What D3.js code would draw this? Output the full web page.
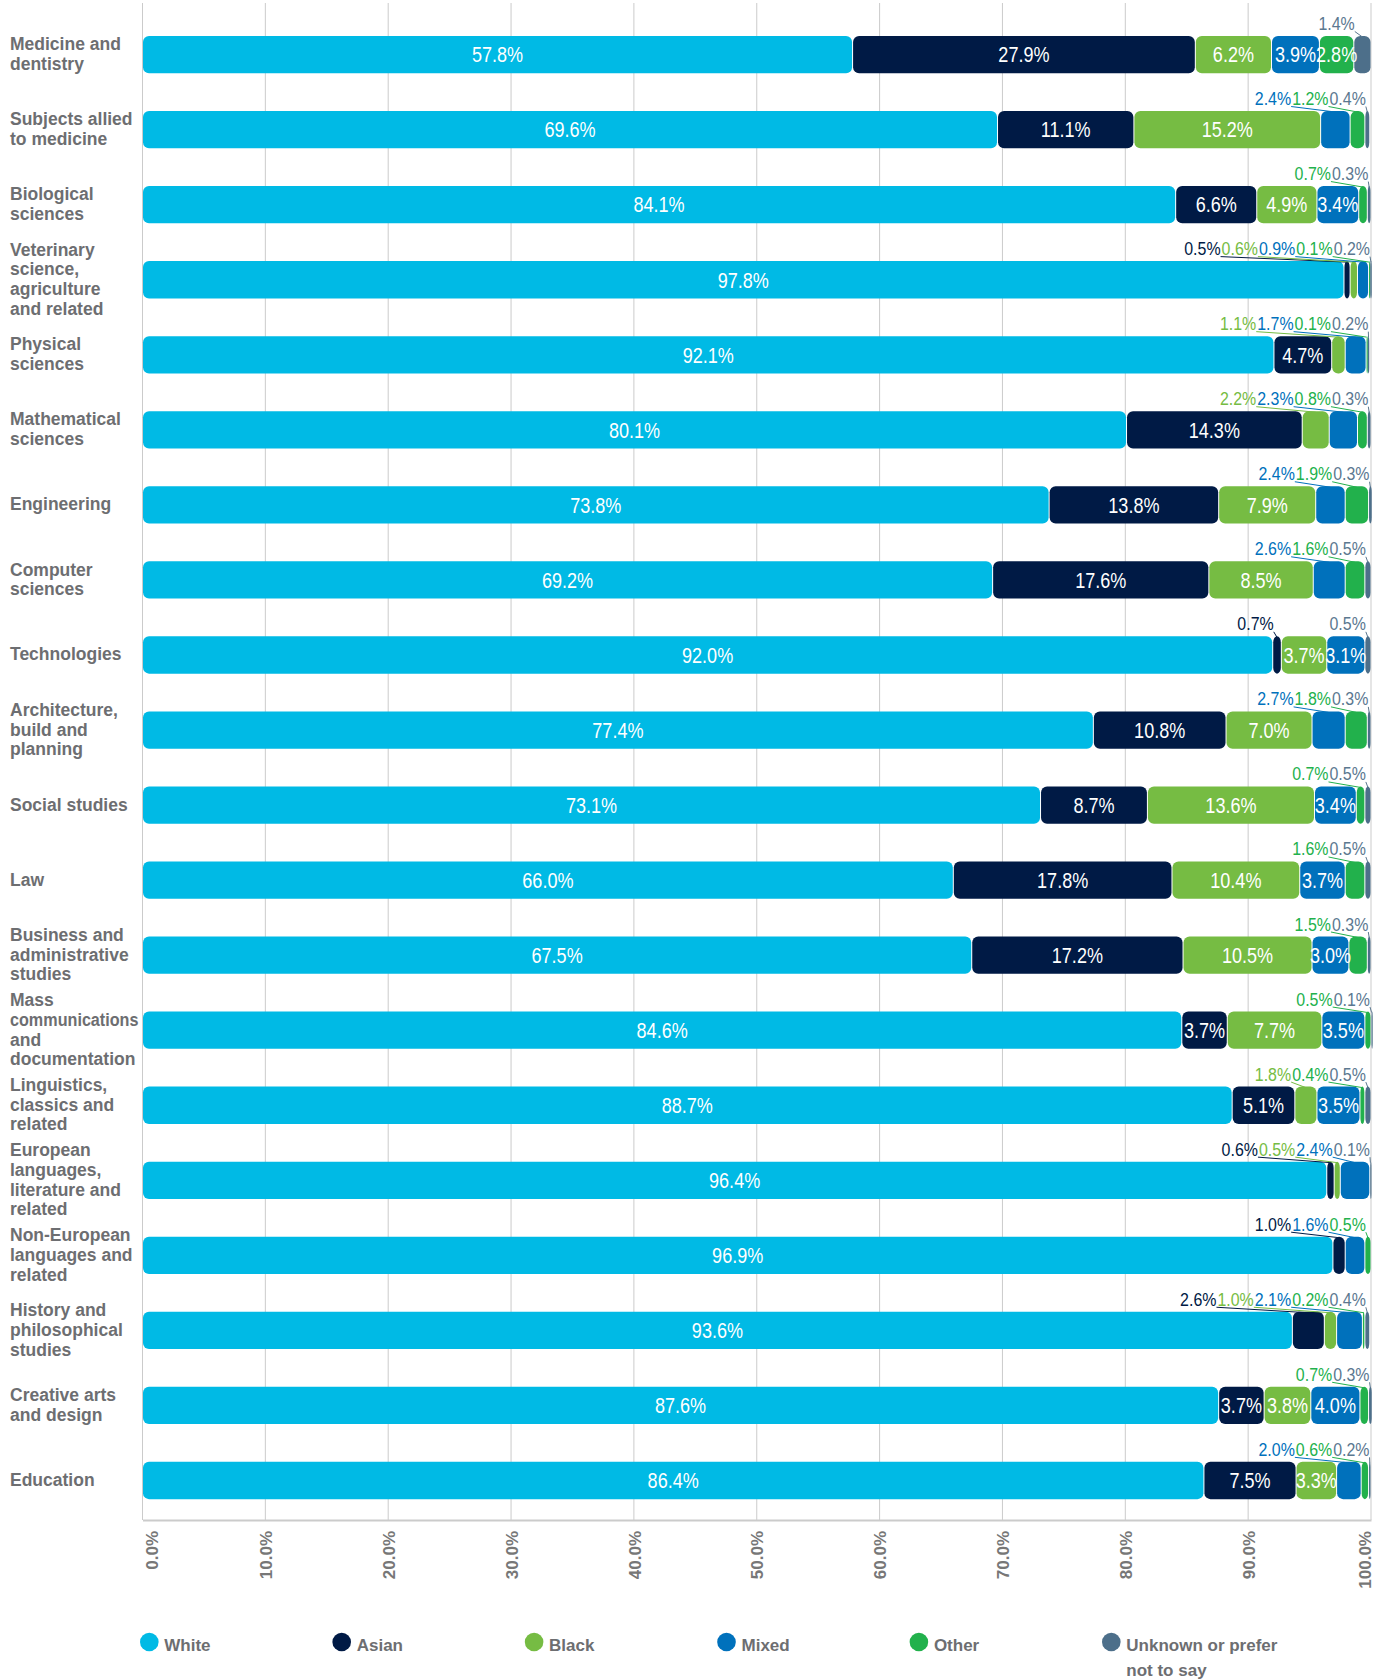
<!DOCTYPE html>
<html>
<head>
<meta charset="utf-8">
<script src="https://cdn.jsdelivr.net/npm/d3@7"></script>
<style>
  body { margin: 0; background: #fff; }
  svg { display: block; }
</style>
</head>
<body>
<svg id="chart" width="1384" height="1679"></svg>
<script>
// Subject areas (line breaks mark how each name wraps)
const categories = [
  "Medicine and\ndentistry",
  "Subjects allied\nto medicine",
  "Biological\nsciences",
  "Veterinary\nscience,\nagriculture\nand related",
  "Physical\nsciences",
  "Mathematical\nsciences",
  "Engineering",
  "Computer\nsciences",
  "Technologies",
  "Architecture,\nbuild and\nplanning",
  "Social studies",
  "Law",
  "Business and\nadministrative\nstudies",
  "Mass\ncommunications\nand\ndocumentation",
  "Linguistics,\nclassics and\nrelated",
  "European\nlanguages,\nliterature and\nrelated",
  "Non-European\nlanguages and\nrelated",
  "History and\nphilosophical\nstudies",
  "Creative arts\nand design",
  "Education"
];

// Share of students by ethnicity, per subject area (%)
const white   = [57.8, 69.6, 84.1, 97.8, 92.1, 80.1, 73.8, 69.2, 92.0, 77.4, 73.1, 66.0, 67.5, 84.6, 88.7, 96.4, 96.9, 93.6, 87.6, 86.4];
const asian   = [27.9, 11.1,  6.6,  0.5,  4.7, 14.3, 13.8, 17.6,  0.7, 10.8,  8.7, 17.8, 17.2,  3.7,  5.1,  0.6,  1.0,  2.6,  3.7,  7.5];
const black   = [ 6.2, 15.2,  4.9,  0.6,  1.1,  2.2,  7.9,  8.5,  3.7,  7.0, 13.6, 10.4, 10.5,  7.7,  1.8,  0.5,  0.0,  1.0,  3.8,  3.3];
const mixed   = [ 3.9,  2.4,  3.4,  0.9,  1.7,  2.3,  2.4,  2.6,  3.1,  2.7,  3.4,  3.7,  3.0,  3.5,  3.5,  2.4,  1.6,  2.1,  4.0,  2.0];
const other   = [ 2.8,  1.2,  0.7,  0.1,  0.1,  0.8,  1.9,  1.6,  0.0,  1.8,  0.7,  1.6,  1.5,  0.5,  0.4,  0.0,  0.5,  0.2,  0.7,  0.6];
const unknown = [ 1.4,  0.4,  0.3,  0.2,  0.2,  0.3,  0.3,  0.5,  0.5,  0.3,  0.5,  0.5,  0.3,  0.1,  0.5,  0.1,  0.0,  0.4,  0.3,  0.2];

const seriesKeys  = ["white", "asian", "black", "mixed", "other", "unknown"];
const seriesNames = ["White", "Asian", "Black", "Mixed", "Other", "Unknown or prefer not to say"];
const tickValues  = [0, 10, 20, 30, 40, 50, 60, 70, 80, 90, 100];

// Palette
const seriesColors = ["#00BAE5", "#001A45", "#76BC43", "#0071BC", "#22B14C", "#4D6F8A"];
const labelColors  = ["#00BAE5", "#001A45", "#76BC43", "#0071BC", "#22B14C", "#5B7890"];

const series = [white, asian, black, mixed, other, unknown];
const rows = categories.map((c, i) => {
  const r = { category: c };
  seriesKeys.forEach((k, j) => { r[k] = series[j][i]; });
  return r;
});

const svg = d3.select("#chart");
const X0 = 142.5, X1 = 1371, PLOT_TOP = 3, AXIS_Y = 1520;

const x = d3.scaleLinear().domain([0, 100]).range([X0, X1]);
const y = d3.scaleBand().domain(categories).range([17.1, 1518]).paddingInner(0.503).paddingOuter(0.2515);

const CAT_FONT = "'Liberation Sans', Arial, sans-serif";
const VAL_FONT = "'Liberation Sans', Arial, sans-serif";
// value labels use a horizontally squeezed face for a condensed look
const IN_SIZE = 21.5, OUT_SIZE = 19, SQUEEZE = 0.84;

// Vertical gridlines
svg.append("g").selectAll("line")
  .data(tickValues)
  .join("line")
  .attr("x1", d => x(d)).attr("x2", d => x(d))
  .attr("y1", PLOT_TOP).attr("y2", AXIS_Y)
  .attr("stroke", "#cbcbcb").attr("stroke-width", 1);

// Bottom axis with rotated percentage labels (end labels kept inside the plot)
const xAxis = d3.axisBottom(x).tickValues(tickValues).tickSize(0).tickFormat(d => d3.format(".1f")(d) + "%");
const axisG = svg.append("g").attr("transform", `translate(0,${AXIS_Y})`).call(xAxis);
axisG.select(".domain").attr("stroke", "#cbcbcb").attr("stroke-width", 2);
axisG.selectAll(".tick text")
  .attr("transform", "rotate(-90)")
  .attr("x", -11).attr("dy", 0)
  .attr("y", d => d === 0 ? 15 : d === 100 ? -1 : 6.2)
  .attr("text-anchor", "end")
  .attr("fill", "#777")
  .style("font-family", CAT_FONT).style("font-weight", "bold").style("font-size", "17px");

// Stacked bars
const stack = d3.stack().keys(seriesKeys)(rows);
const barsG = svg.append("g");
stack.forEach((layer, j) => {
  barsG.append("g")
    .attr("fill", seriesColors[j])
    .selectAll("rect")
    .data(layer.filter(d => d[1] - d[0] > 0))
    .join("rect")
    .attr("x", d => x(d[0]) + 0.5)
    .attr("width", d => Math.max(x(d[1]) - x(d[0]) - 1, 1.2))
    .attr("y", d => y(d.data.category))
    .attr("height", y.bandwidth())
    .attr("rx", 6).attr("ry", 6);
});

// Category labels (lines longer than the label column are squeezed to fit)
const catG = svg.append("g");
const LH = 19.7, LABEL_X = 10, LABEL_MAX_W = 128.5;
categories.forEach(c => {
  const lines = c.split("\n");
  const cy = y(c) + y.bandwidth() / 2;
  const t = catG.append("text")
    .attr("fill", "#6d6e71")
    .style("font-family", CAT_FONT).style("font-weight", "bold")
    .style("font-size", "17.5px");
  lines.forEach((ln, k) => {
    const ts = t.append("tspan").attr("x", LABEL_X)
      .attr("y", cy + (k - (lines.length - 1) / 2) * LH + 5.5)
      .text(ln);
    if (ts.node().getComputedTextLength() > LABEL_MAX_W) {
      ts.attr("textLength", LABEL_MAX_W).attr("lengthAdjust", "spacingAndGlyphs");
    }
  });
});

// Value labels: inside wide segments, above the bar for narrow ones
const fmt = v => d3.format(".1f")(v) + "%";
const labG = svg.append("g");
const INSIDE_MIN = 2.75, GAP = 1, RIGHT_LIMIT = 1370;

function valueText(px, py, anchor, color, value, dy, size) {
  return labG.append("text")
    .attr("transform", `translate(${px},${py}) scale(${SQUEEZE},1)`)
    .attr("dy", dy)
    .attr("text-anchor", anchor).attr("fill", color)
    .style("font-family", VAL_FONT).style("font-size", size + "px")
    .text(fmt(value));
}

rows.forEach(row => {
  const top = y(row.category);
  const cy = top + y.bandwidth() / 2;
  const segs = stack.map((layer, j) => {
    const d = layer.find(e => e.data === row);
    return { j, v: row[seriesKeys[j]], a: d[0], b: d[1] };
  });
  segs.filter(s => s.v >= INSIDE_MIN).forEach(s => {
    valueText((x(s.a) + x(s.b)) / 2, cy, "middle", "#fff", s.v, "0.36em", IN_SIZE);
  });
  const outs = segs.filter(s => s.v > 0 && s.v < INSIDE_MIN);
  const baseline = top - 6;
  const items = outs.map(s => {
    const t = valueText(0, baseline, "end", labelColors[s.j], s.v, 0, OUT_SIZE);
    return { s, t, w: t.node().getComputedTextLength() * SQUEEZE, right: x(s.a) + 1 };
  });
  // pack from the right edge leftwards so labels never overlap
  let limit = RIGHT_LIMIT;
  for (let k = items.length - 1; k >= 0; k--) {
    const it = items[k];
    it.right = Math.min(it.right, limit);
    limit = it.right - it.w - GAP;
  }
  items.forEach(it => {
    it.t.attr("transform", `translate(${it.right},${baseline}) scale(${SQUEEZE},1)`);
    labG.append("line")
      .attr("x1", it.right).attr("y1", baseline + 1.5)
      .attr("x2", (x(it.s.a) + x(it.s.b)) / 2).attr("y2", top + 1)
      .attr("stroke", labelColors[it.s.j]).attr("stroke-width", 1);
  });
});

// Legend
const legG = svg.append("g");
seriesNames.forEach((name, j) => {
  const cx = 149.3 + j * 192.4, cyL = 1642;
  legG.append("circle").attr("cx", cx).attr("cy", cyL).attr("r", 9.3).attr("fill", seriesColors[j]);
  const t = legG.append("text")
    .attr("fill", "#6d6e71")
    .style("font-family", CAT_FONT).style("font-weight", "bold").style("font-size", "17px");
  // wrap long names to a fixed width
  const words = name.split(" ");
  let line = [], lineNo = 0;
  let ts = t.append("tspan").attr("x", cx + 15).attr("y", 1650.5);
  words.forEach(w => {
    line.push(w);
    ts.text(line.join(" "));
    if (ts.node().getComputedTextLength() > 160 && line.length > 1) {
      line.pop();
      ts.text(line.join(" "));
      line = [w];
      lineNo++;
      ts = t.append("tspan").attr("x", cx + 15).attr("y", 1650.5 + lineNo * 25).text(w);
    }
  });
});
</script>
</body>
</html>
